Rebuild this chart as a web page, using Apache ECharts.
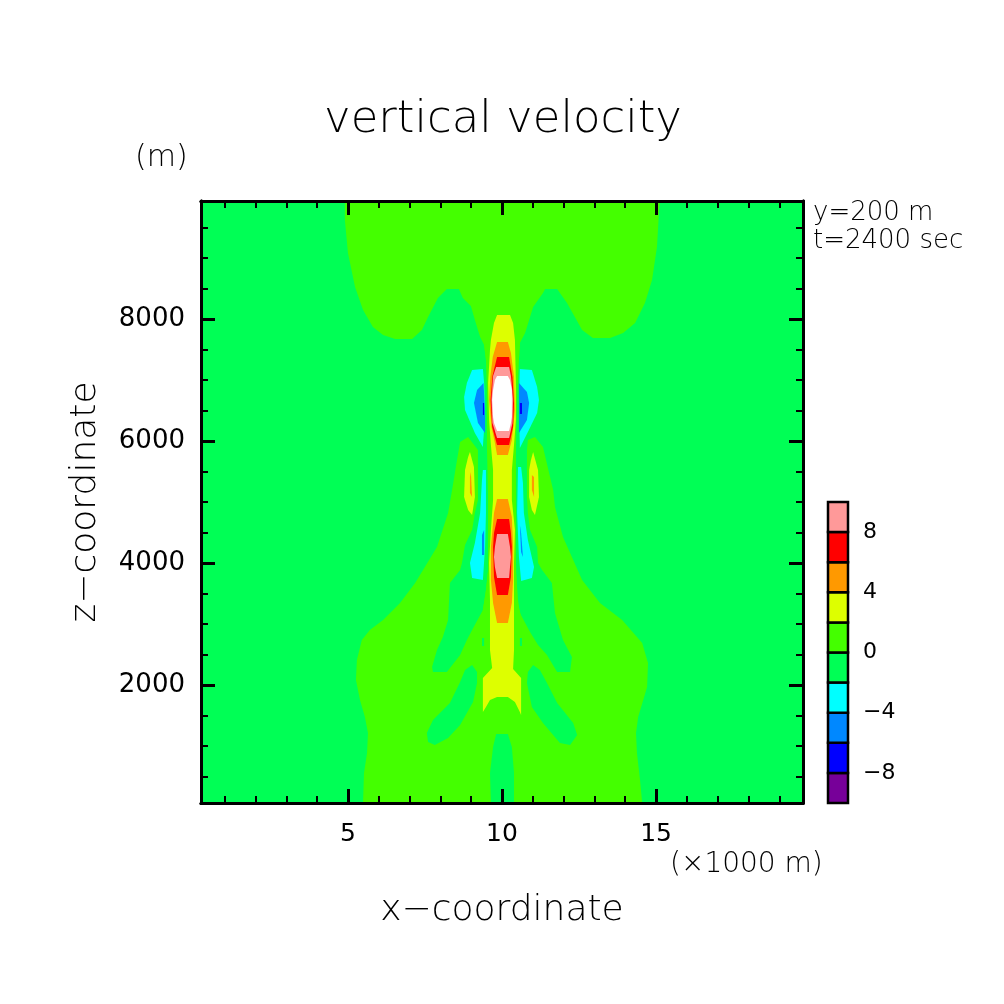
<!DOCTYPE html>
<html><head><meta charset="utf-8">
<style>html,body{margin:0;padding:0;background:#fff}#c{width:1004px;height:1004px}</style>
<script src="https://cdn.jsdelivr.net/npm/echarts@6/dist/echarts.min.js"></script>
</head><body><div id="c"></div>
<script>
// ---- axis data ----
const xRange = [0.23, 19.77];
const zRange = [66, 9934];
const xMajor = [5, 10, 15];
const xMinor = [1,2,3,4,6,7,8,9,11,12,13,14,16,17,18,19];
const zMajor = [2000, 4000, 6000, 8000];
const zMinor = [500,1000,1500,2500,3000,3500,4500,5000,5500,6500,7000,7500,8500,9000,9500];
// ---- colour classes (lower bound of each class, m/s) ----
const levels = [-10,-8,-6,-4,-2,0,2,4,6,8];
const levelColors = ['#770099','#0000ff','#0088ff','#00ffff','#00ff55','#44ff00','#ddff00','#ff9900','#ff0000','#ff9999'];
const levelLabels = [-8,-4,0,4,8];
const overColor = '#ffffff';
// ---- contour outlines: [x (km), z (m)] ----
const domain = [[0.23,66],[19.77,66],[19.77,9934],[0.23,9934]];
const limeTop = [[4.90,9934],[4.90,9622],[5.00,9081],[5.23,8524],[5.49,8147],[5.81,7869],[6.14,7738],[6.53,7672],[7.08,7672],[7.40,7820],[7.60,8032],[7.92,8344],[8.21,8491],[8.60,8491],[8.73,8344],[8.99,8213],[9.12,7984],[9.29,7705],[9.42,7574],[9.48,7328],[10.55,7328],[10.58,7606],[10.75,7770],[10.91,8032],[11.01,8196],[11.33,8426],[11.40,8491],[11.79,8491],[12.11,8262],[12.60,7820],[12.95,7688],[13.51,7688],[13.93,7770],[14.32,7934],[14.64,8262],[14.87,8639],[15.03,9180],[15.10,9786],[15.13,9934]];
const limeLower = [[8.90,6066],[8.64,5984],[8.54,5689],[8.38,5197],[8.25,4820],[7.89,4263],[7.18,3673],[6.69,3345],[6.14,3066],[5.71,2903],[5.45,2738],[5.29,2411],[5.26,2083],[5.39,1755],[5.55,1476],[5.65,1214],[5.62,886],[5.52,558],[5.49,66],[14.55,66],[14.48,444],[14.38,886],[14.35,1214],[14.42,1476],[14.71,1968],[14.74,2362],[14.55,2689],[13.90,3066],[13.18,3345],[12.60,3722],[11.98,4427],[11.72,4918],[11.66,5197],[11.33,5902],[11.07,6066],[10.84,6017],[10.81,5853],[9.22,5853]];
const greenPocketL = [[9.22,5935],[9.22,5033],[9.12,4820],[9.03,4541],[8.80,4295],[8.70,4000],[8.64,3886],[8.31,3673],[8.25,3066],[8.08,2788],[7.89,2575],[7.73,2296],[7.76,2214],[8.21,2214],[8.64,2493],[8.86,2738],[9.03,2903],[9.38,3230],[9.48,3558],[9.55,3886],[9.55,5935]];
const greenPocketR = [[10.81,5935],[10.81,5082],[10.84,4820],[10.91,4541],[11.14,4263],[11.17,4000],[11.30,3886],[11.62,3673],[11.72,3181],[11.98,2738],[12.27,2460],[12.21,2214],[11.79,2214],[11.46,2493],[11.17,2656],[10.91,2870],[10.58,3181],[10.52,3394],[10.45,3886],[10.45,5935]];
const greenBlobL = [[9.03,2329],[8.80,2247],[8.64,2050],[8.31,1706],[7.76,1427],[7.56,1214],[7.60,1067],[7.82,1018],[8.25,1132],[8.64,1345],[9.06,1722],[9.19,2034],[9.19,2214]];
const greenBlobR = [[11.01,2329],[10.84,2214],[10.81,2034],[10.97,1640],[11.33,1378],[11.88,1050],[12.21,1018],[12.44,1182],[12.31,1378],[11.79,1706],[11.46,2034],[11.23,2247]];
const greenBottom = [[9.81,1198],[10.19,1198],[10.32,985],[10.39,558],[10.39,66],[9.64,66],[9.61,558],[9.71,985]];
const limeColumn = [[9.42,7574],[9.48,7328],[9.51,6836],[9.51,5935],[9.55,5033],[9.55,3886],[9.48,3558],[9.38,3230],[9.38,2575],[10.62,2575],[10.65,3066],[10.49,3394],[10.45,4050],[10.45,5853],[10.49,6672],[10.55,7328],[10.58,7606]];
const greenSliverL = [[9.35,2771],[9.42,2771],[9.42,2640],[9.35,2640]];
const greenSliverR = [[10.58,2771],[10.65,2771],[10.65,2640],[10.58,2640]];
const yellowCentral = [[9.84,8065],[9.74,7934],[9.64,7655],[9.61,7492],[9.55,6951],[9.58,6344],[9.64,5935],[9.71,5525],[9.71,5033],[9.64,4541],[9.58,4000],[9.61,3394],[9.61,2575],[9.68,2280],[9.38,2116],[9.38,1558],[9.48,1640],[9.61,1755],[9.84,1804],[10.19,1804],[10.42,1722],[10.58,1558],[10.62,1509],[10.62,2116],[10.36,2263],[10.39,2575],[10.39,4000],[10.42,4541],[10.32,5033],[10.32,5525],[10.39,5935],[10.45,6344],[10.45,6951],[10.42,7655],[10.36,7934],[10.26,8065]];
const orangeUpper = [[9.84,7623],[9.70,7377],[9.62,7049],[9.58,6672],[9.66,6230],[9.77,5968],[9.84,5771],[10.19,5771],[10.32,6017],[10.42,6508],[10.39,7049],[10.29,7442],[10.19,7623]];
const redUpper = [[9.84,7377],[9.69,7066],[9.63,6672],[9.68,6230],[9.84,5935],[10.23,5935],[10.36,6230],[10.39,6623],[10.34,7049],[10.23,7377]];
const pinkUpper = [[9.81,7213],[9.71,7066],[9.66,6672],[9.69,6295],[9.84,6049],[10.23,6049],[10.34,6295],[10.36,6672],[10.29,7066],[10.23,7213]];
const whiteCore = [[9.84,7066],[9.77,7000],[9.71,6836],[9.68,6672],[9.71,6394],[9.74,6295],[9.84,6164],[10.23,6164],[10.29,6295],[10.32,6394],[10.32,6672],[10.32,6836],[10.26,7000],[10.19,7066]];
const orangeLower = [[9.84,5050],[9.74,4820],[9.64,4263],[9.64,3722],[9.71,3345],[9.84,3017],[10.19,3017],[10.32,3345],[10.36,3722],[10.36,4263],[10.32,4754],[10.19,5050]];
const redLower = [[9.84,4722],[9.74,4492],[9.71,4263],[9.74,3771],[9.84,3476],[10.19,3476],[10.29,3771],[10.32,4263],[10.29,4492],[10.23,4722]];
const pinkLower = [[9.84,4476],[9.77,4263],[9.74,4099],[9.77,3935],[9.84,3755],[10.23,3755],[10.26,3935],[10.29,4099],[10.26,4263],[10.19,4476]];
const yellowLobeL = [[8.96,5820],[9.09,5574],[9.12,5082],[9.03,4787],[8.90,4869],[8.77,5082],[8.80,5525],[8.90,5738]];
const orangeLobeL = [[8.96,5410],[8.99,5492],[9.03,5082],[8.96,5148]];
const yellowLobeR = [[11.01,5820],[11.17,5525],[11.20,5082],[11.07,4787],[10.97,4869],[10.88,5082],[10.88,5525],[10.94,5689]];
const orangeLobeR = [[10.97,5443],[11.04,5410],[11.04,5082],[10.97,5197]];
const cyanUpperL = [[9.03,7164],[9.38,7180],[9.42,6951],[9.45,6459],[9.38,5902],[9.12,6131],[8.80,6508],[8.77,6721],[8.86,6951]];
const blueUpperL = [[9.40,6951],[9.19,6836],[9.09,6623],[9.22,6295],[9.45,6131],[9.45,6459]];
const navyUpperL = [[9.38,6623],[9.42,6623],[9.42,6426],[9.38,6426]];
const cyanUpperR = [[10.58,7180],[10.97,7164],[11.14,6885],[11.20,6672],[11.14,6459],[10.84,6148],[10.58,5886],[10.55,6672]];
const blueUpperR = [[10.55,6951],[10.81,6803],[10.88,6623],[10.81,6344],[10.55,6131]];
const navyUpperR = [[10.58,6623],[10.65,6623],[10.65,6443],[10.58,6443]];
const cyanLowerL = [[9.38,5525],[9.48,5525],[9.48,4820],[9.45,4263],[9.38,3722],[9.03,3755],[8.96,4000],[9.12,4328],[9.29,4820],[9.35,5361]];
const blueLowerL = [[9.35,4459],[9.42,4541],[9.42,4132],[9.35,4132]];
const cyanLowerR = [[10.52,5574],[10.62,5574],[10.68,5312],[10.71,4820],[10.84,4377],[11.04,3935],[10.97,3755],[10.62,3706],[10.55,4099],[10.49,4820]];
const blueLowerR = [[10.58,4623],[10.62,4492],[10.68,4099],[10.62,4181]];

// painter's order: [lower class bound, outline]
const contours = [
  [-2,domain],[0,limeTop],[0,limeLower],
  [-2,greenPocketL],[-2,greenPocketR],[-2,greenBlobL],[-2,greenBlobR],[-2,greenBottom],
  [0,limeColumn],[-2,greenSliverL],[-2,greenSliverR],
  [2,yellowCentral],[4,orangeUpper],[6,redUpper],[8,pinkUpper],[10,whiteCore],
  [4,orangeLower],[6,redLower],[8,pinkLower],
  [2,yellowLobeL],[4,orangeLobeL],[2,yellowLobeR],[4,orangeLobeR],
  [-4,cyanUpperL],[-6,blueUpperL],[-8,navyUpperL],[-4,cyanUpperR],[-6,blueUpperR],[-8,navyUpperR],
  [-4,cyanLowerL],[-6,blueLowerL],[-4,cyanLowerR],[-6,blueLowerR]
];
const colorOf = v => { const i = levels.indexOf(v); return i < 0 ? overColor : levelColors[i]; };

const FONT = '"DejaVu Sans"';
const WEIGHT = 200;
const INK = '#000';
const frame = {show:true,onZero:false,lineStyle:{color:INK,width:3}};
function mkX(pos,ticks,len,labels,extra){
  return Object.assign({type:'value',gridIndex:0,position:pos,min:xRange[0],max:xRange[1],z:10,
    axisLine:frame,splitLine:{show:false},
    axisTick:{show:true,inside:true,length:len,customValues:ticks,lineStyle:{color:INK,width:len>10?3:2}},
    axisLabel:labels?{show:true,customValues:labels,formatter:v=>String(v),fontFamily:FONT,fontWeight:'normal',fontSize:25,color:INK,margin:19}:{show:false}},extra||{});
}
function mkY(pos,ticks,len,labels,extra){
  return Object.assign({type:'value',gridIndex:0,position:pos,min:zRange[0],max:zRange[1],z:10,
    axisLine:frame,splitLine:{show:false},
    axisTick:{show:true,inside:true,length:len,customValues:ticks,lineStyle:{color:INK,width:len>10?3:2}},
    axisLabel:labels?{show:true,customValues:labels,formatter:v=>String(v),fontFamily:FONT,fontWeight:'normal',fontSize:26,color:INK,margin:16}:{show:false}},extra||{});
}
const option = {
  animation:false,backgroundColor:'#fff',
  title:{text:'vertical velocity',left:498,top:93,textAlign:'center',textStyle:{fontFamily:FONT,fontWeight:WEIGHT,fontSize:45,color:INK}},
  grid:[{left:201,top:201,width:602,height:602},{left:828,top:502,width:20,height:301}],
  xAxis:[
    mkX('bottom',xMajor,14,xMajor,{name:'x\u2212coordinate',nameLocation:'middle',nameGap:90,nameTextStyle:{fontFamily:FONT,fontWeight:WEIGHT,fontSize:36,color:INK}}),
    mkX('bottom',xMinor,7),mkX('top',xMajor,14),mkX('top',xMinor,7),
    {type:'value',gridIndex:1,min:0,max:1,show:false}
  ],
  yAxis:[
    mkY('left',zMajor,14,zMajor,{name:'z\u2212coordinate',nameLocation:'middle',nameGap:97,nameRotate:90,nameTextStyle:{fontFamily:FONT,fontWeight:WEIGHT,fontSize:36,color:INK}}),
    mkY('left',zMinor,7),mkY('right',zMajor,14),mkY('right',zMinor,7),
    {type:'value',gridIndex:1,position:'right',min:-10,max:10,axisLine:{show:false},axisTick:{show:false},splitLine:{show:false},
      axisLabel:{show:true,customValues:levelLabels,margin:15,fontFamily:FONT,fontWeight:'normal',fontSize:22,color:INK,formatter:v=>String(v).replace('-','\u2212')}}
  ],
  series:[
    {type:'custom',xAxisIndex:0,yAxisIndex:0,silent:true,clip:true,z:2,
     data:contours.map(c=>[c[1][0][0],c[1][0][1],c[0]]),
     renderItem:(p,api)=>{
       const c=contours[p.dataIndex];
       return {type:'polygon',shape:{points:c[1].map(q=>api.coord(q))},style:{fill:colorOf(c[0]),stroke:null}};
     }},
    {type:'custom',xAxisIndex:4,yAxisIndex:4,silent:true,z:2,clip:false,
     data:levels.map(l=>[0,l]),
     renderItem:(p,api)=>{
       const lo=levels[p.dataIndex],a=api.coord([0,lo+2]),b=api.coord([1,lo]);
       return {type:'rect',shape:{x:a[0],y:a[1],width:b[0]-a[0],height:b[1]-a[1]},
         style:{fill:levelColors[p.dataIndex],stroke:INK,lineWidth:2.5}};
     }}
  ],
  graphic:[
    {type:'text',left:135,top:143,silent:true,style:{text:'(m)',font:WEIGHT+' 30px '+FONT,fill:INK}},
    {type:'text',left:813,top:200,silent:true,style:{text:'y=200 m',font:WEIGHT+' 26px '+FONT,fill:INK}},
    {type:'text',left:813,top:228,silent:true,style:{text:'t=2400 sec',font:WEIGHT+' 26px '+FONT,fill:INK}},
    {type:'text',left:670,top:851,silent:true,style:{text:'(\u00d71000 m)',font:WEIGHT+' 28px '+FONT,fill:INK}}
  ]
};
echarts.init(document.getElementById('c'),null,{renderer:'canvas'}).setOption(option);
</script></body></html>
